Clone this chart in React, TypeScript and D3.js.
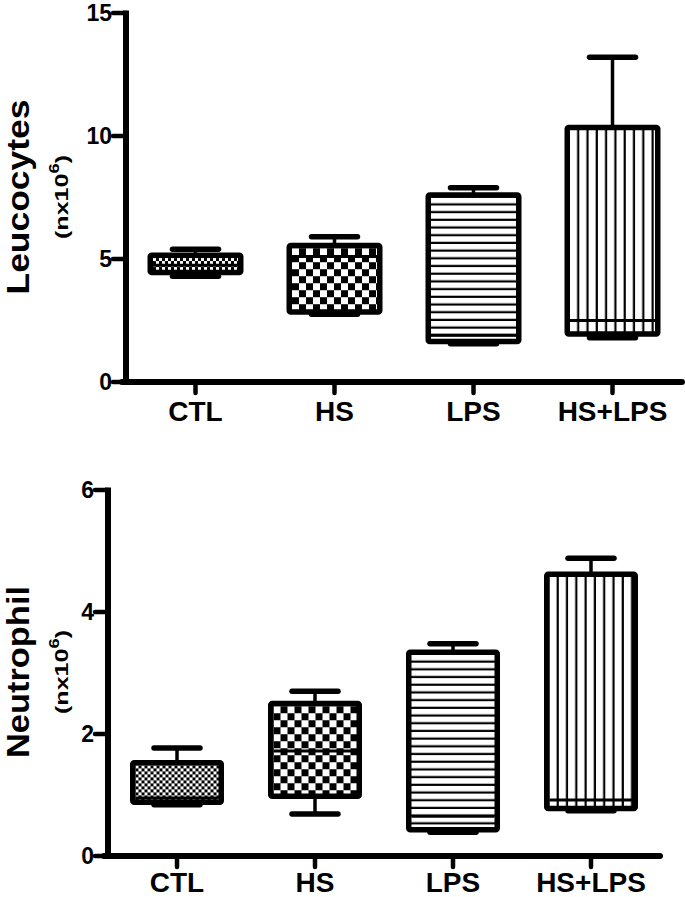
import React from "react";
import * as d3 from "d3";

// groups on the x axis
const categories = ["CTL", "HS", "LPS", "HS+LPS"];

// Leucocytes (n x 10^6): five-number summaries
const leuMin = [4.3, 2.75, 1.55, 1.8];
const leuQ1 = [4.45, 2.85, 1.65, 1.95];
const leuMed = [4.75, 5.1, 1.9, 2.5];
const leuQ3 = [5.15, 5.55, 7.6, 10.35];
const leuMax = [5.4, 5.9, 7.9, 13.2];
const leuTicks = [0, 5, 10, 15];

// Neutrophil (n x 10^6)
const neuMin = [0.84, 0.69, 0.39, 0.74];
const neuQ1 = [0.88, 0.98, 0.43, 0.78];
const neuMed = [0.95, 1.72, 0.65, 0.92];
const neuQ3 = [1.53, 2.5, 3.34, 4.62];
const neuMax = [1.77, 2.7, 3.48, 4.88];
const neuTicks = [0, 2, 4, 6];

const FONT = "'Liberation Sans', Arial, Helvetica, sans-serif";
const patternKinds = ["fine", "checker", "hlines", "vlines"];

type PanelProps = {
  id: string;
  title: string;
  titleLen: number;
  titleY: number;
  ymax: number;
  ticks: number[];
  mins: number[];
  q1s: number[];
  meds: number[];
  q3s: number[];
  maxs: number[];
  axisX: number;
  axisEnd: number;
  yTop: number;
  yBottom: number;
  labelY: number;
  halfW: number;
};

function Pattern({ id, kind, x, y }: { id: string; kind: string; x: number; y: number }) {
  if (kind === "fine" || kind === "checker") {
    const c = kind === "fine" ? 3 : 7;
    return (
      <pattern id={id} patternUnits="userSpaceOnUse" x={x} y={y} width={2 * c} height={2 * c}>
        <rect width={2 * c} height={2 * c} fill="#fff" />
        <rect x={c} y={0} width={c} height={c} fill="#000" />
        <rect x={0} y={c} width={c} height={c} fill="#000" />
      </pattern>
    );
  }
  if (kind === "hlines") {
    const s = 7.7;
    return (
      <pattern id={id} patternUnits="userSpaceOnUse" x={x} y={y} width={20} height={s}>
        <rect width={20} height={s} fill="#fff" />
        <rect x={0} y={s - 2.2} width={20} height={2.2} fill="#000" />
      </pattern>
    );
  }
  const s = 9.3;
  return (
    <pattern id={id} patternUnits="userSpaceOnUse" x={x} y={y} width={s} height={20}>
      <rect width={s} height={20} fill="#fff" />
      <rect x={s - 2.2} y={0} width={2.2} height={20} fill="#000" />
    </pattern>
  );
}

function Panel(p: PanelProps) {
  const x = d3.scalePoint<string>().domain(categories).range([p.axisX, p.axisEnd]).padding(0.5);
  const y = d3.scaleLinear().domain([0, p.ymax]).range([p.yBottom, p.yTop]);
  const sw = 5.5;

  return (
    <g>
      <defs>
        {categories.map((c, i) => (
          <Pattern
            key={c}
            id={`${p.id}-${i}`}
            kind={patternKinds[i]}
            x={(x(c) as number) - p.halfW + sw}
            y={y(p.q3s[i]) + sw / 2}
          />
        ))}
      </defs>

      {/* axes */}
      <line x1={p.axisX} x2={p.axisX} y1={p.yTop - 2.5} y2={p.yBottom + 2.5} stroke="#000" strokeWidth={6} />
      <line x1={p.axisX - 4} x2={p.axisEnd} y1={p.yBottom} y2={p.yBottom} stroke="#000" strokeWidth={6} strokeLinecap="round" />
      {p.ticks.map((t) => (
        <g key={t}>
          <line x1={p.axisX - 13} x2={p.axisX} y1={y(t)} y2={y(t)} stroke="#000" strokeWidth={4.5} strokeLinecap="round" />
          <text
            x={p.axisX - 14}
            y={y(t)}
            dy="0.36em"
            textAnchor="end"
            fontFamily={FONT}
            fontWeight="bold"
            fontSize={23}
          >
            {t}
          </text>
        </g>
      ))}
      {categories.map((c) => (
        <g key={c}>
          <line x1={x(c)} x2={x(c)} y1={p.yBottom} y2={p.yBottom + 11} stroke="#000" strokeWidth={4.5} strokeLinecap="round" />
          <text x={x(c)} y={p.labelY} textAnchor="middle" fontFamily={FONT} fontWeight="bold" fontSize={28}>
            {c}
          </text>
        </g>
      ))}

      {/* boxes */}
      {categories.map((c, i) => {
        const cx = x(c) as number;
        const top = y(p.q3s[i]);
        const bot = y(p.q1s[i]);
        return (
          <g key={c}>
            <line x1={cx} x2={cx} y1={y(p.maxs[i])} y2={top} stroke="#000" strokeWidth={3.5} />
            <line x1={cx} x2={cx} y1={bot} y2={y(p.mins[i])} stroke="#000" strokeWidth={3.5} />
            <line x1={cx - 23} x2={cx + 23} y1={y(p.maxs[i])} y2={y(p.maxs[i])} stroke="#000" strokeWidth={5.5} strokeLinecap="round" />
            <line x1={cx - 23} x2={cx + 23} y1={y(p.mins[i])} y2={y(p.mins[i])} stroke="#000" strokeWidth={5.5} strokeLinecap="round" />
            <rect
              x={cx - p.halfW + sw / 2}
              y={top}
              width={2 * p.halfW - sw}
              height={bot - top}
              fill={`url(#${p.id}-${i})`}
              stroke="#000"
              strokeWidth={sw}
              strokeLinejoin="round"
              rx={1.5}
            />
            <line x1={cx - p.halfW + sw} x2={cx + p.halfW - sw} y1={y(p.meds[i])} y2={y(p.meds[i])} stroke="#000" strokeWidth={3} />
          </g>
        );
      })}

      {/* y titles */}
      <text
        transform={`translate(29, ${p.titleY}) rotate(-90)`}
        textAnchor="middle"
        fontFamily={FONT}
        fontWeight="bold"
        fontSize={32}
        textLength={p.titleLen}
        lengthAdjust="spacingAndGlyphs"
      >
        {p.title}
      </text>
      <text
        transform={`translate(68, ${p.titleY}) rotate(-90)`}
        textAnchor="middle"
        fontFamily={FONT}
        fontWeight="bold"
        fontSize={19}
        textLength={84}
        lengthAdjust="spacingAndGlyphs"
      >
        (nx10<tspan fontSize={14} dy={-9}>6</tspan>
        <tspan dy={9}>)</tspan>
      </text>
    </g>
  );
}

export default function App() {
  return (
    <svg
      width={685}
      height={897}
      viewBox="0 0 685 897"
      style={{ position: "absolute", left: 0, top: 0, background: "#fff" }}
    >
      <Panel
        id="leu"
        title="Leucocytes"
        titleLen={195}
        titleY={197}
        ymax={15}
        ticks={leuTicks}
        mins={leuMin}
        q1s={leuQ1}
        meds={leuMed}
        q3s={leuQ3}
        maxs={leuMax}
        axisX={126}
        axisEnd={682}
        yTop={13}
        yBottom={382}
        labelY={421}
        halfW={48}
      />
      <Panel
        id="neu"
        title="Neutrophil"
        titleLen={172}
        titleY={672}
        ymax={6}
        ticks={neuTicks}
        mins={neuMin}
        q1s={neuQ1}
        meds={neuMed}
        q3s={neuQ3}
        maxs={neuMax}
        axisX={108}
        axisEnd={660}
        yTop={490}
        yBottom={856}
        labelY={892}
        halfW={47}
      />
    </svg>
  );
}
